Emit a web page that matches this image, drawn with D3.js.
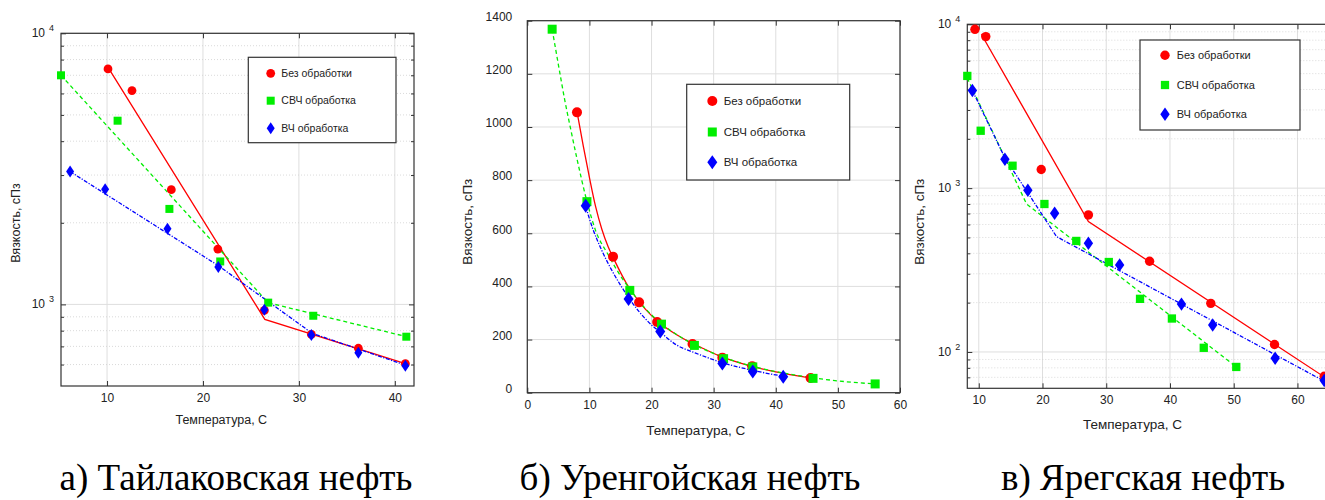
<!DOCTYPE html>
<html>
<head>
<meta charset="utf-8">
<script src="https://cdn.jsdelivr.net/npm/d3@7"></script>
<style>
  body { margin: 0; background: #fff; }
  svg text { font-family: "Liberation Sans", Arial, sans-serif; fill: #222; }
  .caption { font-family: "Liberation Serif", "Times New Roman", serif !important; font-size: 37px; fill: #000; }
</style>
</head>
<body>
<svg width="1325" height="500"></svg>
<script>
// **** Data ****

var seriesNames = ['Без обработки', 'СВЧ обработка', 'ВЧ обработка'];
var captions = ['а) Тайлаковская нефть', 'б) Уренгойская нефть', 'в) Ярегская нефть'];

// а) Тайлаковская нефть (log scale)
var aRawT = [10.1, 12.6, 16.7, 21.55, 26.4, 31.3, 36.2, 41.1];
var aRawV = [7390, 6150, 2650, 1600, 950, 775, 689, 605];
var aMwT = [5.2, 11.1, 16.5, 21.8, 26.8, 31.5, 41.2];
var aMwV = [7000, 4760, 2250, 1440, 1015, 908, 760];
var aHfT = [6.15, 9.8, 16.3, 21.6, 26.4, 31.3, 36.2, 41.1];
var aHfV = [3090, 2660, 1900, 1375, 955, 771, 663, 594];
var aRawFitT = [10.3, 26.45, 41.1];
var aRawFitV = [7300, 880, 605];
var aMwFitT = [5.2, 26.8, 41.3];
var aMwFitV = [7000, 1014, 759];
var aHfFitT = [6.15, 21.6, 31.4, 41.1];
var aHfFitV = [3090, 1390, 782, 597];

// б) Уренгойская нефть (linear scale)
var bRawT = [8.0, 13.8, 18.0, 20.9, 26.6, 31.4, 36.2, 45.6];
var bRawV = [1055, 512, 340, 266, 183, 132, 100, 55];
var bMwT = [4.0, 9.6, 16.5, 21.6, 26.9, 31.6, 36.3, 46.0, 56.0];
var bMwV = [1368, 719, 385, 258, 178, 128, 97, 54, 33];
var bHfT = [9.4, 16.3, 21.4, 31.4, 36.3, 41.2];
var bHfV = [704, 353, 230, 110, 80, 60];
var bRawFitT = [8.1, 9, 10, 11, 12, 13, 14, 16, 18, 20, 22, 25, 28, 31, 35, 40, 45.5];
var bRawFitV = [1045, 930, 810, 700, 615, 550, 500, 410, 343, 290, 250, 205, 170, 138, 107, 78, 56];
var bMwFitT = [4.0, 5, 6, 7, 8, 9.6, 11, 13, 15, 16.5, 18.5, 21.6, 25, 28, 32, 37, 42, 46, 51, 56];
var bMwFitV = [1368, 1235, 1105, 990, 880, 720, 610, 520, 440, 390, 330, 260, 205, 168, 130, 95, 71, 56, 42, 33];
var bHfFitT = [9.4, 10.5, 12, 13.5, 15, 16.4, 18, 20, 21.4, 24, 27, 31.4, 36.3, 41.2];
var bHfFitV = [700, 620, 535, 465, 405, 355, 305, 255, 228, 180, 150, 113, 84, 62];

// в) Ярегская нефть (log scale)
var cRawT = [9.4, 11.1, 19.8, 27.2, 36.8, 46.4, 56.4, 64.2];
var cRawV = [9320, 8410, 1300, 686, 358, 198, 111, 71];
var cMwT = [8.2, 10.3, 15.3, 20.3, 25.3, 30.4, 35.3, 40.3, 45.3, 50.4];
var cMwV = [4840, 2240, 1370, 800, 476, 354, 211, 160, 106, 81];
var cHfT = [9.0, 14.1, 17.7, 21.9, 27.2, 32.1, 41.8, 46.7, 56.5, 64.2];
var cHfV = [3940, 1500, 970, 702, 461, 340, 196, 146, 91.5, 67];
var cRawFitT = [10.4, 27.2, 64.3];
var cRawFitV = [8700, 625, 70];
var cMwFitT = [8.2, 17.5, 50.4];
var cMwFitV = [4700, 800, 81];
var cHfFitT = [9.0, 14.1, 22.2, 64.3];
var cHfFitV = [3940, 1530, 506, 66];

var seriesColors = ['#ff0000', '#00ee00', '#0000ff'];
var seriesDash = [null, '4,3', '4,1.5,1.2,1.5'];
var seriesShape = ['circle', 'square', 'diamond'];

var svg = d3.select('svg');

function zip(t, v) {
    return t.map(function(d, i) { return { t: d, v: v[i] }; });
}

function marker(sel, shape, s) {
    if (shape === 'circle') {
        sel.append('circle').attr('r', s.r);
    } else if (shape === 'square') {
        sel.append('rect').attr('x', -s.sq / 2).attr('y', -s.sq / 2)
            .attr('width', s.sq).attr('height', s.sq);
    } else {
        sel.append('path').attr('d', 'M0,' + (-s.dh) + 'L' + s.dw + ',0L0,' + s.dh + 'L' + (-s.dw) + ',0Z');
    }
}

function drawPanel(p) {
    var g = svg.append('g');
    var x = d3.scaleLinear().domain(p.xDomain).range([p.left, p.right]);
    var y = (p.log ? d3.scaleLog() : d3.scaleLinear()).domain(p.yDomain).range([p.bottom, p.top]);

    // minor decades for log axes
    var minor = [];
    if (p.log) {
        for (var k = 0; k <= 4; k++) {
            for (var m = 2; m <= 9; m++) {
                var mv = m * Math.pow(10, k);
                if (mv > p.yDomain[0] && mv < p.yDomain[1]) minor.push(mv);
            }
        }
    }

    // grid
    g.selectAll('.vgrid').data(p.xTicks).enter().append('line')
        .attr('x1', function(d) { return x(d); }).attr('x2', function(d) { return x(d); })
        .attr('y1', p.top).attr('y2', p.bottom)
        .attr('stroke', '#dedede').attr('stroke-width', 1);
    g.selectAll('.hgrid').data(p.yTicks).enter().append('line')
        .attr('x1', p.left).attr('x2', p.right)
        .attr('y1', function(d) { return y(d); }).attr('y2', function(d) { return y(d); })
        .attr('stroke', '#dedede').attr('stroke-width', 1);
    g.selectAll('.mgrid').data(minor).enter().append('line')
        .attr('x1', p.left).attr('x2', p.right)
        .attr('y1', function(d) { return y(d); }).attr('y2', function(d) { return y(d); })
        .attr('stroke', '#d0d0d0').attr('stroke-width', 0.8).attr('stroke-dasharray', '1,2');

    // inward ticks on all sides
    function clean(a) { a.select('.domain').remove(); a.selectAll('line').attr('stroke', '#333'); }
    var bottomAxis = g.append('g').attr('transform', 'translate(0,' + p.bottom + ')')
        .call(d3.axisBottom(x).tickValues(p.xTicks).tickSize(-5).tickPadding(p.xPad).tickFormat(d3.format('d')))
        .call(clean);
    bottomAxis.selectAll('text').attr('font-size', 12).attr('fill', '#222')
        .attr('font-family', '"Liberation Sans", Arial, sans-serif');
    g.append('g').attr('transform', 'translate(0,' + p.top + ')')
        .call(d3.axisTop(x).tickValues(p.xTicks).tickSize(-5).tickFormat(''))
        .call(clean);

    var leftAxis = g.append('g').attr('transform', 'translate(' + p.left + ',0)')
        .call(d3.axisLeft(y).tickValues(p.yTicks).tickSize(-5).tickPadding(p.yPad)
            .tickFormat(p.log ? '' : d3.format('d')))
        .call(clean);
    leftAxis.selectAll('text').attr('font-size', 12).attr('fill', '#222')
        .attr('font-family', '"Liberation Sans", Arial, sans-serif')
        .attr('transform', 'translate(0,-4)');
    g.append('g').attr('transform', 'translate(' + p.right + ',0)')
        .call(d3.axisRight(y).tickValues(p.yTicks).tickSize(-5).tickFormat(''))
        .call(clean);
    if (p.log) {
        g.append('g').attr('transform', 'translate(' + p.left + ',0)')
            .call(d3.axisLeft(y).tickValues(minor).tickSize(-3).tickFormat(''))
            .call(clean);
        g.append('g').attr('transform', 'translate(' + p.right + ',0)')
            .call(d3.axisRight(y).tickValues(minor).tickSize(-3).tickFormat(''))
            .call(clean);
        // 10 with superscript exponent
        var lab = g.selectAll('.loglab').data(p.yTicks).enter().append('g')
            .attr('transform', function(d) { return 'translate(' + p.left + ',' + y(d) + ')'; });
        lab.append('text').attr('x', -16).attr('y', 4).attr('text-anchor', 'end')
            .attr('font-size', 12).text('10');
        lab.append('text').attr('x', -12).attr('y', -2).attr('font-size', 9)
            .text(function(d) { return Math.round(Math.log10(d)); });
    }

    // frame
    g.append('rect').attr('x', p.left).attr('y', p.top)
        .attr('width', p.right - p.left).attr('height', p.bottom - p.top)
        .attr('fill', 'none').attr('stroke', '#333').attr('stroke-width', 1.2);

    // fitted lines
    var line = d3.line()
        .x(function(d) { return x(d.t); })
        .y(function(d) { return y(d.v); })
        .curve(p.smooth ? d3.curveMonotoneX : d3.curveLinear);
    p.fits.forEach(function(f, i) {
        g.append('path').datum(f).attr('d', line)
            .attr('fill', 'none').attr('stroke', seriesColors[i])
            .attr('stroke-width', 1.3)
            .attr('stroke-dasharray', seriesDash[i]);
    });

    // points
    p.points.forEach(function(pts, i) {
        var pg = g.selectAll('.pt' + i).data(pts).enter().append('g')
            .attr('transform', function(d) { return 'translate(' + x(d.t) + ',' + y(d.v) + ')'; })
            .attr('fill', seriesColors[i]);
        marker(pg, seriesShape[i], p.mk);
    });

    // axis titles
    g.append('text').attr('text-anchor', 'middle').attr('font-size', p.titleSize)
        .attr('transform', 'translate(' + p.yTitle[0] + ',' + p.yTitle[1] + ') rotate(-90)')
        .text('Вязкость, сПз');
    g.append('text').attr('text-anchor', 'middle').attr('font-size', p.titleSize)
        .attr('x', p.xTitle[0]).attr('y', p.xTitle[1])
        .text('Температура, С');

    // legend
    var L = p.legend;
    g.append('rect').attr('x', L.x0).attr('y', L.y0)
        .attr('width', L.x1 - L.x0).attr('height', L.y1 - L.y0)
        .attr('fill', '#fff').attr('stroke', '#333').attr('stroke-width', 1.2);
    seriesNames.forEach(function(name, i) {
        var mg = g.append('g').attr('transform', 'translate(' + L.mx + ',' + L.rows[i] + ')')
            .attr('fill', seriesColors[i]);
        marker(mg, seriesShape[i], p.mk);
        g.append('text').attr('x', L.tx).attr('y', L.rows[i] + L.fs * 0.36)
            .attr('font-size', L.fs).text(name);
    });

    // caption
    svg.append('text').attr('class', 'caption').attr('text-anchor', 'middle')
        .attr('x', p.caption[0]).attr('y', p.caption[1]).text(p.captionText);
}

drawPanel({
    left: 61, right: 414, top: 33.3, bottom: 386,
    xDomain: [5.2, 42], yDomain: [500, 10000], log: true,
    xTicks: [10, 20, 30, 40], yTicks: [1000, 10000],
    xPad: 7, yPad: 16, smooth: false,
    mk: { r: 4.4, sq: 8, dw: 4, dh: 6 },
    fits: [zip(aRawFitT, aRawFitV), zip(aMwFitT, aMwFitV), zip(aHfFitT, aHfFitV)],
    points: [zip(aRawT, aRawV), zip(aMwT, aMwV), zip(aHfT, aHfV)],
    titleSize: 12.5, yTitle: [20, 223], xTitle: [221.3, 424],
    legend: { x0: 248.3, y0: 57.3, x1: 396, y1: 142.7, mx: 270.7, tx: 281.3, rows: [73.3, 100.7, 128.3], fs: 10.5 },
    caption: [236, 490], captionText: captions[0]
});

drawPanel({
    left: 527.3, right: 900, top: 20.7, bottom: 392.7,
    xDomain: [0, 60], yDomain: [0, 1400], log: false,
    xTicks: [0, 10, 20, 30, 40, 50, 60], yTicks: [0, 200, 400, 600, 800, 1000, 1200, 1400],
    xPad: 8, yPad: 15, smooth: true,
    mk: { r: 5, sq: 9, dw: 5, dh: 7 },
    fits: [zip(bRawFitT, bRawFitV), zip(bMwFitT, bMwFitV), zip(bHfFitT, bHfFitV)],
    points: [zip(bRawT, bRawV), zip(bMwT, bMwV), zip(bHfT, bHfV)],
    titleSize: 13.5, yTitle: [472, 221.7], xTitle: [695.7, 434.5],
    legend: { x0: 686.7, y0: 84.3, x1: 849.7, y1: 180, mx: 712.3, tx: 723.7, rows: [101, 132, 162.3], fs: 11.5 },
    caption: [690, 490], captionText: captions[1]
});

drawPanel({
    left: 967.3, right: 1335.7, top: 24.3, bottom: 388.3,
    xDomain: [8.2, 66], yDomain: [60, 10000], log: true,
    xTicks: [10, 20, 30, 40, 50, 60], yTicks: [100, 1000, 10000],
    xPad: 7, yPad: 16, smooth: false,
    mk: { r: 4.7, sq: 8.3, dw: 4.7, dh: 6.7 },
    fits: [zip(cRawFitT, cRawFitV), zip(cMwFitT, cMwFitV), zip(cHfFitT, cHfFitV)],
    points: [zip(cRawT, cRawV), zip(cMwT, cMwV), zip(cHfT, cHfV)],
    titleSize: 13.5, yTitle: [924, 221.7], xTitle: [1132.5, 429],
    legend: { x0: 1140, y0: 40, x1: 1300, y1: 130, mx: 1165, tx: 1176.7, rows: [55.3, 85, 114.3], fs: 11 },
    caption: [1143, 490], captionText: captions[2]
});
</script>
</body>
</html>
